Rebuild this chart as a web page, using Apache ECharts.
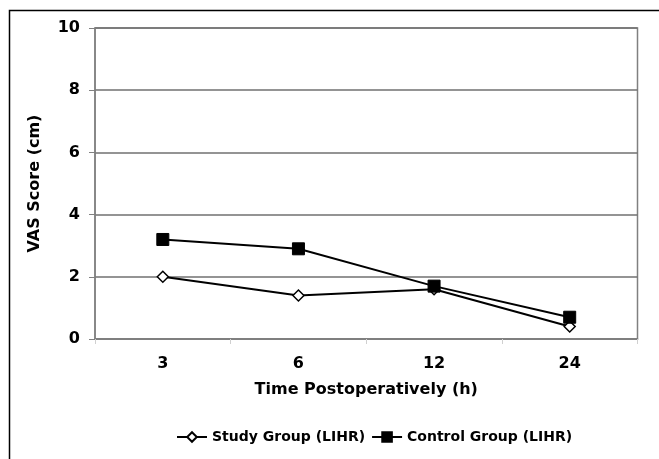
<!DOCTYPE html>
<html>
<head>
<meta charset="utf-8">
<script src="https://cdn.jsdelivr.net/npm/echarts@6/dist/echarts.min.js"></script>
<style>
html,body{margin:0;padding:0;background:#fff;}
#chart{width:659px;height:459px;}
</style>
</head>
<body>
<div id="chart"></div>
<script>
var categories = ['3', '6', '12', '24'];
var studyGroup = [2.0, 1.4, 1.6, 0.4];
var controlGroup = [3.2, 2.9, 1.7, 0.7];
var seriesNames = ['Study Group (LIHR)', 'Control Group (LIHR)'];

var FONT = '"DejaVu Sans", Verdana, sans-serif';
var chart = echarts.init(document.getElementById('chart'), null, {renderer: 'canvas'});
chart.setOption({
  backgroundColor: '#fff',
  animation: false,
  graphic: [{
    type: 'rect',
    shape: {x: 9.5, y: 10.5, width: 700, height: 500},
    style: {fill: 'none', stroke: '#000', lineWidth: 1.5},
    silent: true
  }],
  grid: {
    left: 95, top: 28, right: 21.5, bottom: 120,
    show: true, borderColor: '#808080', borderWidth: 1.5, backgroundColor: 'transparent'
  },
  legend: {
    left: 171, top: 425,
    itemWidth: 30, itemHeight: 12, itemGap: 6,
    textStyle: {fontFamily: FONT, fontWeight: 'bold', fontSize: 14, color: '#000'},
    data: seriesNames
  },
  xAxis: {
    type: 'category',
    data: categories,
    boundaryGap: true,
    name: 'Time Postoperatively (h)',
    nameLocation: 'middle',
    nameGap: 43,
    nameTextStyle: {fontFamily: FONT, fontWeight: 'bold', fontSize: 16, color: '#000'},
    axisLine: {show: true, lineStyle: {color: '#808080', width: 1.5}},
    axisTick: {show: true, length: 5, lineStyle: {color: '#d0d0d0', width: 1}},
    axisLabel: {fontFamily: FONT, fontWeight: 'bold', fontSize: 16, color: '#000', margin: 17},
    splitLine: {show: false}
  },
  yAxis: {
    type: 'value',
    min: 0, max: 10, interval: 2,
    name: 'VAS Score (cm)',
    nameLocation: 'middle',
    nameGap: 52,
    nameTextStyle: {fontFamily: FONT, fontWeight: 'bold', fontSize: 16, color: '#000'},
    axisLine: {show: true, lineStyle: {color: '#808080', width: 1.5}},
    axisTick: {show: true, length: 6, lineStyle: {color: '#808080', width: 1}},
    axisLabel: {fontFamily: FONT, fontWeight: 'bold', fontSize: 16, color: '#000', margin: 15},
    splitLine: {show: true, lineStyle: {color: '#707070', width: 1.5}}
  },
  series: [
    {
      name: seriesNames[0],
      type: 'line',
      data: studyGroup,
      symbol: 'diamond',
      symbolSize: 11,
      lineStyle: {color: '#000', width: 2},
      itemStyle: {color: '#fff', borderColor: '#000', borderWidth: 1.5},
      z: 3
    },
    {
      name: seriesNames[1],
      type: 'line',
      data: controlGroup,
      symbol: 'rect',
      symbolSize: 12,
      lineStyle: {color: '#000', width: 2},
      itemStyle: {color: '#000', borderColor: '#000', borderWidth: 1},
      z: 4
    }
  ]
});
</script>
</body>
</html>
